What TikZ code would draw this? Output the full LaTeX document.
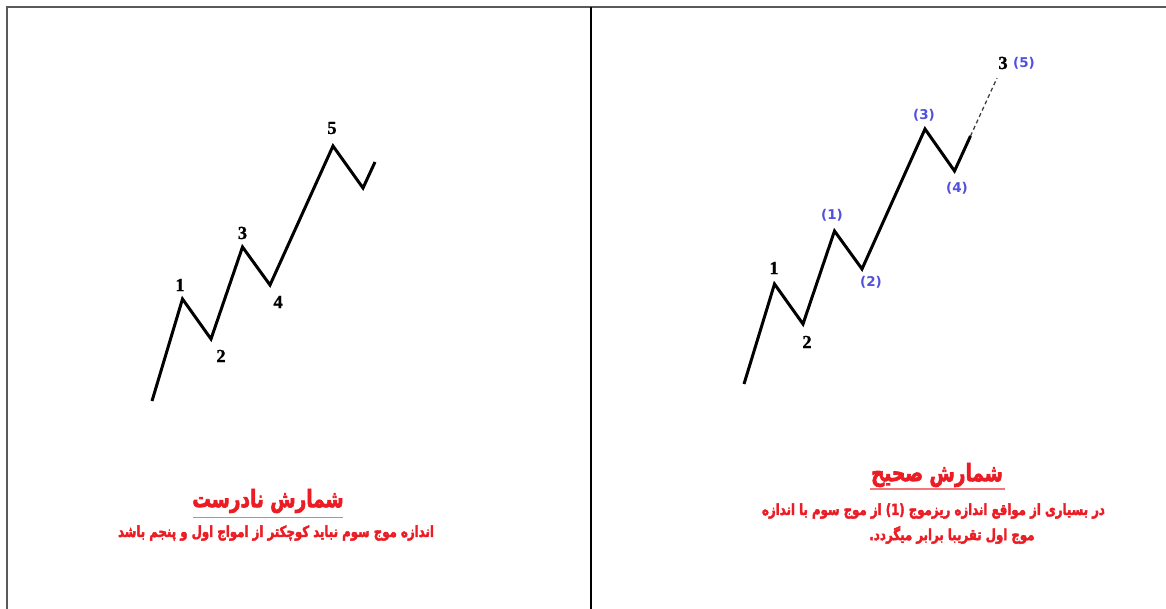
\documentclass[tikz,border=0pt]{standalone}
\usepackage{fontspec}
\TeXXeTstate=1
\newfontfamily\arabicfont[Script=Arabic,FakeBold=3]{DejaVu Sans}
\newfontfamily\numfont[FakeBold=1]{Liberation Serif}
\newfontfamily\bluefont{DejaVu Sans}
\definecolor{redtxt}{RGB}{236,28,36}
\definecolor{pinkline}{RGB}{240,120,120}
\definecolor{bluelbl}{RGB}{80,80,220}
\definecolor{framegray}{RGB}{90,90,90}
\newcommand{\tallfa}[1]{\scalebox{1}[1.3]{\beginR #1\endR}}
\begin{document}
\begin{tikzpicture}[x=1bp,y=-1bp,
  wave/.style={line width=3bp,line join=miter},
  numlbl/.style={font=\numfont\bfseries\fontsize{18.5}{18}\selectfont,text=black,inner sep=0pt},
  bluelab/.style={font=\bluefont\bfseries\fontsize{13.5}{14}\selectfont,text=bluelbl,inner sep=0pt},
  titletxt/.style={font=\arabicfont\bfseries\fontsize{18.5}{19}\selectfont,text=redtxt,inner sep=0pt},
  subtxt/.style={font=\arabicfont\bfseries\fontsize{11.8}{13}\selectfont,text=redtxt,inner sep=0pt},
  uline/.style={draw=pinkline,line width=1.8bp}]
\useasboundingbox (0,0) rectangle (1166,609);
% frame
\coordinate (tl) at (7,7);
\coordinate (tr) at (1166,7);
\coordinate (bl) at (7,609);
\coordinate (mt) at (591,7);
\coordinate (mb) at (591,609);
\draw[framegray,line width=2bp] (tr) -- (tl) -- (bl);
\draw[black,line width=1.3bp] (mt) -- (mb);
% left wave
\coordinate (a0) at (152,401);
\coordinate (a1) at (182.5,299);
\coordinate (a2) at (211,339);
\coordinate (a3) at (242.5,247);
\coordinate (a4) at (270,285);
\coordinate (a5) at (333,146);
\coordinate (a6) at (363,188);
\coordinate (a7) at (375,162);
\draw[wave] (a0) -- (a1) -- (a2) -- (a3) -- (a4) -- (a5) -- (a6) -- (a7);
\node[numlbl] (l1) at (180,285) {1};
\node[numlbl] (l2) at (221,356) {2};
\node[numlbl] (l3) at (242.5,233) {3};
\node[numlbl] (l4) at (278,302) {4};
\node[numlbl] (l5) at (332,128) {5};
% right wave
\coordinate (b0) at (744,384);
\coordinate (b1) at (774.5,284);
\coordinate (b2) at (803,324);
\coordinate (b3) at (834.5,231);
\coordinate (b4) at (862,269);
\coordinate (b5) at (925,129);
\coordinate (b6) at (954.5,171);
\coordinate (b7) at (970.5,136);
\coordinate (b8) at (997,78);
\draw[wave] (b0) -- (b1) -- (b2) -- (b3) -- (b4) -- (b5) -- (b6) -- (b7);
\draw[line width=1.3bp,draw=black!75,dash pattern=on 4bp off 3bp] (b7) -- (b8);
\node[numlbl] (r1) at (774,268) {1};
\node[numlbl] (r2) at (807,342) {2};
\node[bluelab] (p1) at (832,215) {(1)};
\node[bluelab] (p2) at (871,282) {(2)};
\node[bluelab] (p3) at (924,115) {(3)};
\node[bluelab] (p4) at (957,188) {(4)};
\node[numlbl] (r3) at (1003,63) {3};
\node[bluelab] (p5) at (1024,63) {(5)};
% left texts
\node[titletxt] (t1) at (268,501) {\tallfa{شمارش نادرست}};
\draw[uline] (193,517.5) -- (343,517.5);
\node[subtxt] (s1) at (276,533) {\tallfa{اندازه موج سوم نباید کوچکتر از امواج اول و پنجم باشد}};
% right texts
\node[titletxt] (t2) at (937,475) {\tallfa{شمارش صحیح}};
\draw[uline] (870,489) -- (1005,489);
\node[subtxt] (s2) at (933.5,511) {\tallfa{در بسیاری از مواقع اندازه ریزموج \beginL(1)\endL{} از موج سوم با اندازه}};
\node[subtxt] (s3) at (952,535) {\tallfa{موج اول تقریبا برابر میگردد.}};
\end{tikzpicture}
\end{document}
